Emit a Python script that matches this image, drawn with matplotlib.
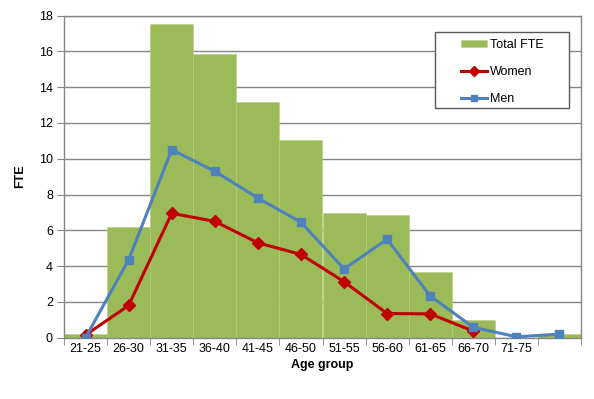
import numpy as np
import matplotlib.pyplot as plt
from matplotlib.patches import Rectangle

plt.rcParams['font.family'] = ['Liberation Sans', 'DejaVu Sans']

age_groups = ['21-25', '26-30', '31-35', '36-40', '41-45', '46-50', '51-55',
              '56-60', '61-65', '66-70', '71-75', '']
total_fte = [0.2, 6.2, 17.5, 15.85, 13.15, 11.05, 6.95, 6.85, 3.67, 0.99, 0.0, 0.2]
women = [0.15, 1.8, 6.95, 6.5, 5.3, 4.65, 3.13, 1.35, 1.33, 0.37]
men = [0.0, 4.35, 10.5, 9.3, 7.8, 6.45, 3.84, 5.5, 2.33, 0.58, 0.05, 0.2]

fig = plt.figure(figsize=(5.94, 3.99), dpi=100)
ax = fig.add_axes([64 / 594, 1 - 337.7 / 399, 517 / 594, 322.2 / 399])

x = np.arange(len(age_groups))
bars = ax.bar(x, total_fte, width=1.0, color='#9BBB59', edgecolor='#B4CC82',
              linewidth=0.4, label='Total FTE', zorder=2)
lw, = ax.plot(x[:len(women)], women, color='#C00000', marker='D', markersize=6,
              linewidth=2.2, label='Women', zorder=3)
lm, = ax.plot(x[:len(men)], men, color='#4F81BD', marker='s', markersize=6,
              linewidth=2.2, label='Men', zorder=4)

ax.set_xlim(-0.5, len(age_groups) - 0.5)
ax.set_ylim(0, 18)
ax.set_yticks(range(0, 19, 2))
ax.yaxis.grid(True, color='#868686', linewidth=1)
ax.set_axisbelow(True)

ax.set_xticks(x)
ax.set_xticklabels(age_groups)
ax.set_xticks(np.arange(-0.5, len(age_groups)), minor=True)
ax.tick_params(axis='x', which='major', length=0, pad=4, labelsize=9)
ax.tick_params(axis='x', which='minor', length=5, color='#868686')
ax.tick_params(axis='y', length=5, color='#868686', labelsize=9, pad=3)

for s in ax.spines.values():
    s.set_color('#868686')
    s.set_linewidth(1)

ax.set_xlabel('Age group', fontsize=9, fontweight='bold', labelpad=3)
ax.set_ylabel('FTE', fontsize=9, fontweight='bold', labelpad=9)

# legend box drawn by hand so its size matches the original
box = Rectangle((0.7176, 0.712), 0.2592, 0.236, transform=ax.transAxes,
                facecolor='white', edgecolor='#595959', linewidth=1, zorder=5)
ax.add_patch(box)
leg = ax.legend([bars, lw, lm], ['Total FTE', 'Women', 'Men'],
                loc='upper left', bbox_to_anchor=(0.768, 0.926), fontsize=9,
                frameon=False, borderpad=0, labelspacing=1.2,
                handlelength=2.1, handleheight=0.5, handletextpad=0.25,
                borderaxespad=0)
leg.set_zorder(6)
for h in leg.legend_handles[1:]:
    h.set_markersize(5)

fig.savefig('out.png', dpi=100)
